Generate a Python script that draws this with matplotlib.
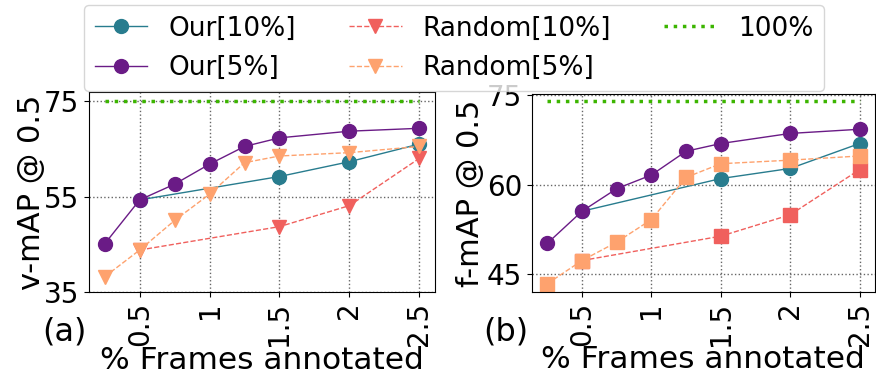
import matplotlib
matplotlib.use("Agg")
import matplotlib.pyplot as plt

# fraction of frames annotated (%)
x_dense = [0.25, 0.5, 0.75, 1, 1.25, 1.5, 2, 2.5]
x_sparse = [0.5, 1.5, 2, 2.5]
xticks = [0.5, 1, 1.5, 2, 2.5]
xticklabels = ["0.5", "1", "1.5", "2", "2.5"]

# v-mAP @ 0.5
v_our10 = [54.3, 59.2, 62.3, 66.0]
v_our5 = [45.1, 54.3, 57.6, 61.8, 65.5, 67.3, 68.7, 69.3]
v_rand10 = [43.8, 48.7, 53.1, 63.0]
v_rand5 = [38.2, 43.8, 50.0, 55.5, 62.1, 63.5, 64.2, 65.5]
v_full = 75.0

# f-mAP @ 0.5
f_our10 = [55.5, 61.0, 62.7, 66.9]
f_our5 = [50.1, 55.5, 59.3, 61.6, 65.6, 66.9, 68.6, 69.3]
f_rand10 = [47.2, 51.3, 54.9, 62.5]
f_rand5 = [43.3, 47.2, 50.3, 54.1, 61.2, 63.5, 64.1, 64.8]
f_full = 74.0

c_our10 = "#287c8e"
c_our5 = "#6a1b86"
c_rand10 = "#f0605d"
c_rand5 = "#fea26e"
c_full = "#3cb500"

FS = 20

fig = plt.figure(figsize=(8.76, 3.78), dpi=100)
ax1 = fig.add_axes([0.1016, 0.2275, 0.395, 0.529])
ax2 = fig.add_axes([0.607, 0.2275, 0.392, 0.524])


def draw(ax, our10, our5, rand10, rand5, full, rmark):
    ax.plot(x_sparse, our10, "-", marker="o", color=c_our10, lw=1, ms=10, label="Our[10%]")
    ax.plot(x_dense, our5, "-", marker="o", color=c_our5, lw=1, ms=10, label="Our[5%]")
    ax.plot(x_sparse, rand10, "--", marker=rmark, color=c_rand10, lw=1, ms=10, label="Random[10%]")
    ax.plot(x_dense, rand5, "--", marker=rmark, color=c_rand5, lw=1, ms=10, label="Random[5%]")
    ax.plot([x_dense[0], x_dense[-1]], [full, full], ":", color=c_full, lw=2.5, label="100%")
    ax.grid(True, linestyle=":", color="0.4", linewidth=1)
    ax.set_axisbelow(True)
    ax.set_xticks(xticks)
    ax.set_xticklabels(xticklabels, rotation=90, fontsize=FS)
    ax.tick_params(axis="y", labelsize=FS)
    ax.set_xlabel("% Frames annotated", fontsize=22.5)
    ax.xaxis.set_label_coords(0.5, -0.27)


draw(ax1, v_our10, v_our5, v_rand10, v_rand5, v_full, "v")
ax1.set_yticks([35, 55, 75])
ax1.set_ylim(35, 76.9)
ax1.set_ylabel("v-mAP @ 0.5", fontsize=22)
ax1.yaxis.set_label_coords(-0.124, 0.5)
ax1.text(-0.072, -0.2, "(a)", transform=ax1.transAxes, ha="center", va="center", fontsize=23)

draw(ax2, f_our10, f_our5, f_rand10, f_rand5, f_full, "s")
ax2.set_yticks([45, 60, 75])
ax2.set_ylim(41.9, 75.25)
ax2.set_ylabel("f-mAP @ 0.5", fontsize=22)
ax2.yaxis.set_label_coords(-0.136, 0.5)
ax2.text(-0.075, -0.2, "(b)", transform=ax2.transAxes, ha="center", va="center", fontsize=23)

handles, labels = ax1.get_legend_handles_labels()
fig.legend(handles, labels, loc="upper center", bbox_to_anchor=(454 / 876, 1 - 5 / 378),
           borderaxespad=0, ncol=3, fontsize=19)

fig.savefig("out.png", dpi=100)
